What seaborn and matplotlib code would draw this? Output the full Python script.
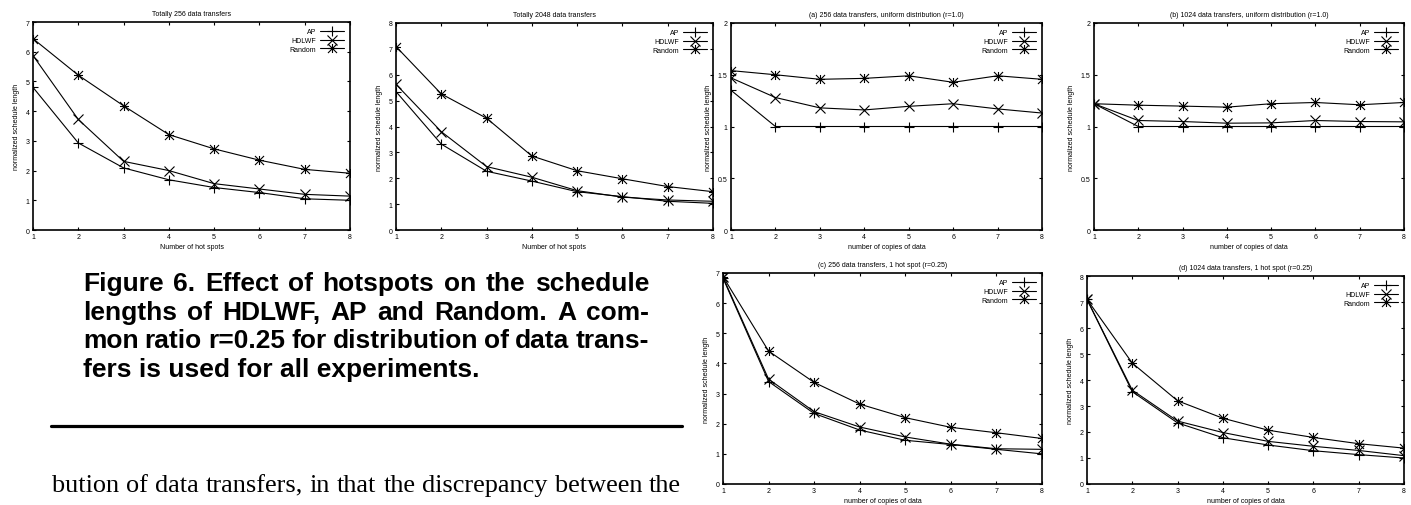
import numpy as np
import pandas as pd
import matplotlib
matplotlib.use("Agg")
import matplotlib.pyplot as plt
import seaborn as sns
from matplotlib.lines import Line2D
from matplotlib.path import Path
from matplotlib.ticker import FuncFormatter

# ---------------- data ----------------
x_hot = [1, 2, 3, 4, 5, 6, 7, 8]
x_copies = [1, 2, 3, 4, 5, 6, 7, 8]
series_names = ["AP", "HDLWF", "Random"]

hot256_ap = [4.80, 2.93, 2.09, 1.69, 1.43, 1.26, 1.05, 1.00]
hot256_hdlwf = [5.87, 3.72, 2.31, 2.00, 1.56, 1.38, 1.20, 1.14]
hot256_random = [6.44, 5.21, 4.18, 3.21, 2.73, 2.35, 2.04, 1.91]

hot2048_ap = [5.35, 3.32, 2.27, 1.89, 1.48, 1.29, 1.11, 1.03]
hot2048_hdlwf = [5.63, 3.80, 2.45, 2.04, 1.52, 1.27, 1.16, 1.11]
hot2048_random = [7.09, 5.26, 4.32, 2.86, 2.29, 1.98, 1.68, 1.48]

uni256_ap = [1.35, 1.00, 1.00, 1.00, 1.00, 1.00, 1.00, 1.00]
uni256_hdlwf = [1.47, 1.28, 1.18, 1.16, 1.195, 1.22, 1.17, 1.13]
uni256_random = [1.54, 1.50, 1.456, 1.465, 1.49, 1.427, 1.49, 1.456]

uni1024_ap = [1.22, 1.00, 1.00, 1.00, 1.00, 1.00, 1.00, 1.00]
uni1024_hdlwf = [1.22, 1.058, 1.048, 1.032, 1.035, 1.058, 1.048, 1.045]
uni1024_random = [1.22, 1.206, 1.197, 1.187, 1.22, 1.232, 1.21, 1.232]

spot256_ap = [6.83, 3.40, 2.34, 1.79, 1.45, 1.31, 1.15, 1.00]
spot256_hdlwf = [6.86, 3.48, 2.40, 1.89, 1.56, 1.32, 1.17, 1.15]
spot256_random = [6.88, 4.41, 3.37, 2.65, 2.20, 1.88, 1.70, 1.51]

spot1024_ap = [7.10, 3.55, 2.35, 1.78, 1.50, 1.28, 1.13, 1.00]
spot1024_hdlwf = [7.10, 3.61, 2.42, 1.98, 1.64, 1.45, 1.29, 1.09]
spot1024_random = [7.10, 4.65, 3.20, 2.53, 2.07, 1.79, 1.55, 1.38]

titles = [
    "Totally 256 data transfers",
    "Totally 2048 data transfers",
    "(a) 256 data transfers, uniform distribution (r=1.0)",
    "(b) 1024 data transfers, uniform distribution (r=1.0)",
    "(c) 256 data transfers, 1 hot spot (r=0.25)",
    "(d) 1024 data transfers, 1 hot spot (r=0.25)",
]
xlabel_hot = "Number of hot spots"
xlabel_copies = "number of copies of data"
ylabel = "normalized schedule length"

caption_lines = [
    "Figure 6. Effect of hotspots on the schedule",
    "lengths of HDLWF, AP and Random. A com-",
    "mon ratio r=0.25 for distribution of data trans-",
    "fers is used for all experiments.",
]
body_line = "bution of data transfers, in that the discrepancy between the"

# ---------------- style ----------------
sns.set_theme(style="ticks")
plt.rcParams["font.family"] = ["Liberation Sans", "DejaVu Sans"]
plt.rcParams["text.color"] = "black"
plt.rcParams["axes.labelcolor"] = "black"
plt.rcParams["xtick.color"] = "black"
plt.rcParams["ytick.color"] = "black"

W, H = 1411, 506
fig = plt.figure(figsize=(W / 100, H / 100), dpi=100)
fig.patch.set_facecolor("white")

def px_axes(x0, y0, x1, y1):
    return fig.add_axes([x0 / W, 1 - y1 / H, (x1 - x0) / W, (y1 - y0) / H])

star_path = Path(
    [(-1, 0), (1, 0), (0, -1), (0, 1), (-1, -1), (1, 1), (-1, 1), (1, -1)],
    [Path.MOVETO, Path.LINETO] * 4,
)
markers = {"AP": "+", "HDLWF": "x", "Random": star_path}

FS = 5.0
panels = [
    ((33, 23, 350, 231), x_hot, [hot256_ap, hot256_hdlwf, hot256_random], 7, 1, xlabel_hot),
    ((396, 24, 713, 231), x_hot, [hot2048_ap, hot2048_hdlwf, hot2048_random], 8, 1, xlabel_hot),
    ((731, 24, 1042, 231), x_copies, [uni256_ap, uni256_hdlwf, uni256_random], 2, 0.5, xlabel_copies),
    ((1094, 24, 1404, 231), x_copies, [uni1024_ap, uni1024_hdlwf, uni1024_random], 2, 0.5, xlabel_copies),
    ((723, 274, 1042, 485), x_copies, [spot256_ap, spot256_hdlwf, spot256_random], 7, 1, xlabel_copies),
    ((1087, 277, 1404, 485), x_copies, [spot1024_ap, spot1024_hdlwf, spot1024_random], 8, 1, xlabel_copies),
]

for i, (box, xs, ys_list, ymax, ystep, xl) in enumerate(panels):
    ax = px_axes(*box)
    for name, ys in zip(series_names, ys_list):
        df = pd.DataFrame({"x": xs, "y": ys})
        sns.lineplot(data=df, x="x", y="y", ax=ax, color="black", linewidth=0.8,
                     marker=markers[name], markersize=6.5, markeredgewidth=0.8,
                     markeredgecolor="black", markerfacecolor="black", label=name)
    ax.set_xlim(1, 8)
    ax.set_ylim(0, ymax)
    ax.set_xticks(range(1, 9))
    ax.set_yticks(np.arange(0, ymax + ystep / 2, ystep))
    ax.yaxis.set_major_formatter(FuncFormatter(lambda v, p: "%g" % v))
    ax.tick_params(direction="in", top=True, right=True, length=2.5, width=0.8,
                   labelsize=FS, pad=2.5, colors="black")
    for s in ax.spines.values():
        s.set_linewidth(1.2)
        s.set_color("black")
    ax.set_title(titles[i], fontsize=FS, pad=5, color="black")
    ax.set_xlabel(xl, fontsize=FS, labelpad=2, color="black")
    ax.set_ylabel(ylabel, fontsize=FS, labelpad=4, color="black")
    leg = ax.legend(loc="upper right", markerfirst=False, frameon=False, fontsize=FS,
                    handlelength=3.4, handletextpad=0.6, labelspacing=0.25,
                    borderaxespad=0.6, borderpad=0.3)
    for t in leg.get_texts():
        t.set_color("black")
    ax.set_facecolor("white")

# ---------------- caption & text ----------------
renderer = fig.canvas.get_renderer()

def justify(text, x0, x1, ybase, **kw):
    words = text.split(" ")
    objs = [fig.text(0, 1 - ybase / H, w, va="baseline", ha="left", **kw) for w in words]
    widths = [o.get_window_extent(renderer).width for o in objs]
    gap = ((x1 - x0) - sum(widths)) / (len(words) - 1)
    x = x0
    for o, w in zip(objs, widths):
        o.set_x(x / W)
        x += w + gap

cap_kw = dict(fontsize=19.0, fontweight="bold", color="black",
              family=["Liberation Sans", "DejaVu Sans"])
cap_base = [291, 319.7, 348.4, 377]
for k, line in enumerate(caption_lines):
    if k < len(caption_lines) - 1:
        justify(line, 83, 649, cap_base[k], **cap_kw)
    else:
        fig.text(83 / W, 1 - cap_base[k] / H, line, va="baseline", ha="left", **cap_kw)

fig.add_artist(Line2D([51 / W, 682 / W], [1 - 427 / H, 1 - 427 / H], color="black", linewidth=2.3))

justify(body_line, 52, 681, 492, fontsize=18.9, color="black",
        family=["Liberation Serif", "DejaVu Serif"])

fig.savefig("out.png", dpi=100, facecolor="white")
